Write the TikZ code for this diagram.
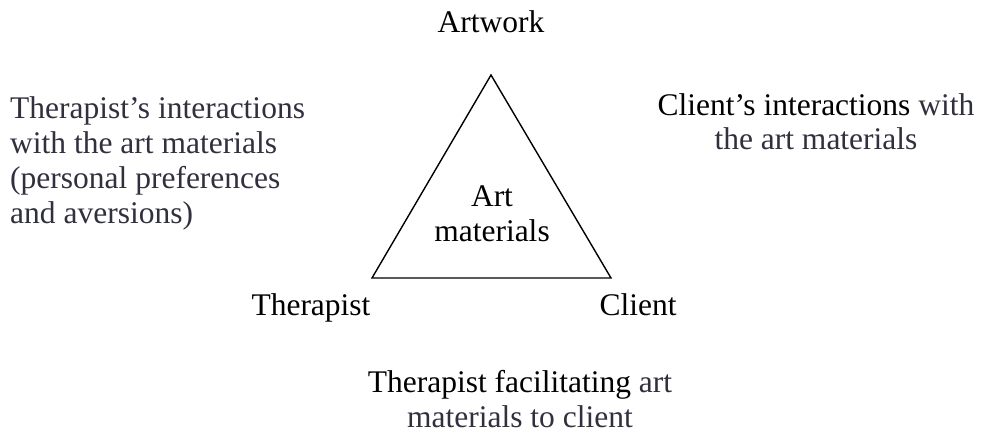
\documentclass[tikz,border=0pt]{standalone}
\usepackage{fontspec}
\setmainfont{Liberation Serif}
\usepackage{xcolor}
\definecolor{softink}{RGB}{48,48,62}

\begin{document}
\begin{tikzpicture}[x=1pt,y=-1pt]
    \tikzstyle{txt}=[inner sep=0pt, font=\fontsize{31.5}{35}\selectfont, anchor=base]
    \tikzstyle{block}=[txt, align=center]
    \useasboundingbox (0,0) rectangle (994,433);
    \coordinate (top) at (491,75);
    \coordinate (bl) at (372,278);
    \coordinate (br) at (611,278);
    \draw[line width=1.4pt] (top) -- (bl) -- (br) -- cycle;
    \node[txt] (artwork) at (491,33) {Artwork};
    \node[txt] (therapist) at (311,315) {Therapist};
    \node[txt] (client) at (638,315) {Client};
    \node[block] (materials) at (492,241) {Art\\materials};
    \node[txt, align=left, anchor=base west, text=softink] (therapistside) at (10,223)
        {Therapist's interactions\\with the art materials\\(personal preferences\\and aversions)};
    \node[block] (clientside) at (816,150)
        {Client's interactions \textcolor{softink}{with}\\\textcolor{softink}{the art materials}};
    \node[block] (facilitation) at (520,427)
        {Therapist facilitating \textcolor{softink}{art}\\\textcolor{softink}{materials to client}};
\end{tikzpicture}
\end{document}
